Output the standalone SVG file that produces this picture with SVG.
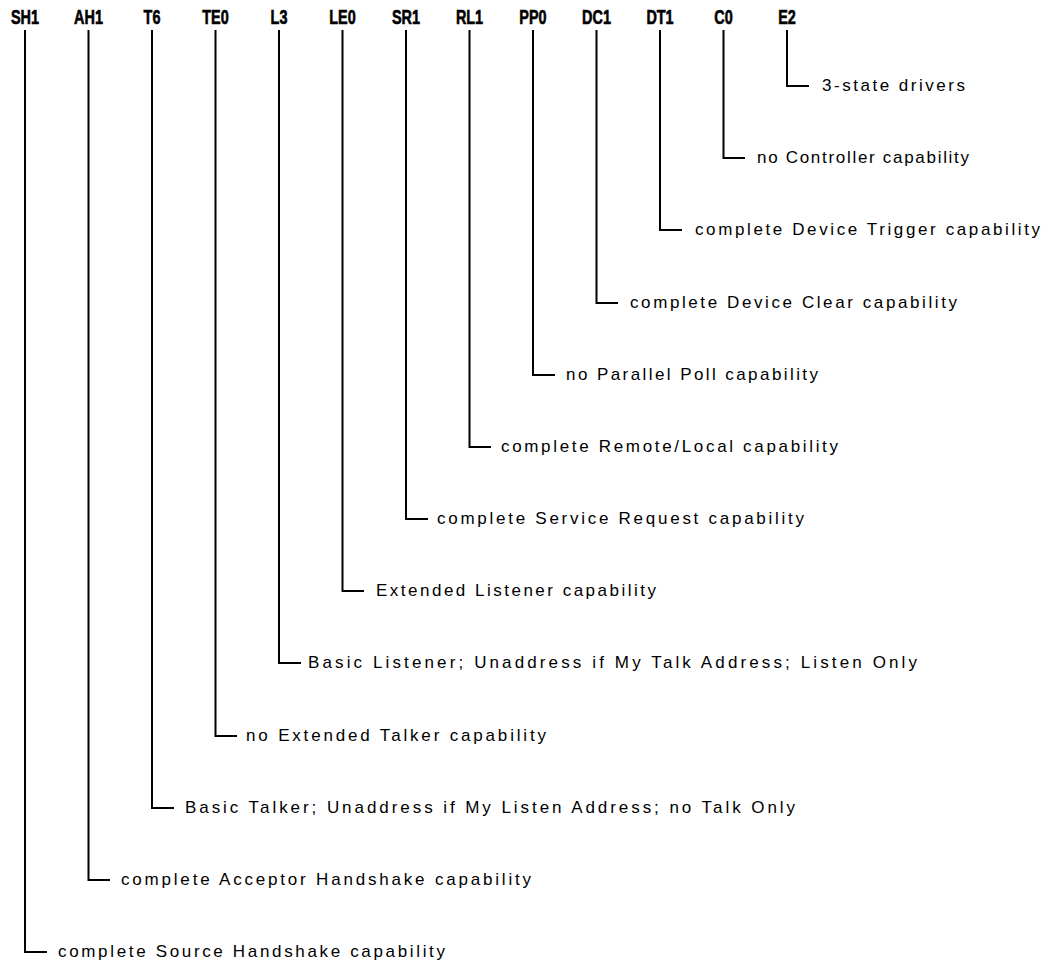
<svg xmlns="http://www.w3.org/2000/svg" width="1047" height="963" viewBox="0 0 1047 963">
<style>
.hd{font-family:"Liberation Sans",Arial,sans-serif;font-weight:bold;font-size:19.5px;fill:#000;stroke:#000;stroke-width:0.6;text-anchor:middle}
.lb{font-family:"Liberation Sans",Arial,sans-serif;font-size:17px;fill:#000}
.ln{fill:none;stroke:#000;stroke-width:2}
</style>
<rect width="1047" height="963" fill="#fff"/>
<g id="connectors">
<path class="ln" d="M25,30V952H47"/>
<path class="ln" d="M88.5,30V880H110"/>
<path class="ln" d="M152,30V808H174"/>
<path class="ln" d="M215.5,30V736H237"/>
<path class="ln" d="M279,30V663H301"/>
<path class="ln" d="M342.5,30V591H364"/>
<path class="ln" d="M406,30V519H428"/>
<path class="ln" d="M469.5,30V447H491"/>
<path class="ln" d="M533,30V375H555"/>
<path class="ln" d="M596.5,30V303H618"/>
<path class="ln" d="M660,30V230H682"/>
<path class="ln" d="M723.5,30V158H745"/>
<path class="ln" d="M787,30V86H809"/>
</g>
<g id="SH1"><text class="hd" transform="translate(25,24) scale(0.74,1)">SH1</text><text class="lb" x="58" y="957" textLength="387" lengthAdjust="spacing">complete Source Handshake capability</text></g>
<g id="AH1"><text class="hd" transform="translate(88.5,24) scale(0.74,1)">AH1</text><text class="lb" x="121" y="885" textLength="410" lengthAdjust="spacing">complete Acceptor Handshake capability</text></g>
<g id="T6"><text class="hd" transform="translate(152,24) scale(0.74,1)">T6</text><text class="lb" x="185" y="813" textLength="610" lengthAdjust="spacing">Basic Talker; Unaddress if My Listen Address; no Talk Only</text></g>
<g id="TE0"><text class="hd" transform="translate(215.5,24) scale(0.74,1)">TE0</text><text class="lb" x="246" y="741" textLength="300" lengthAdjust="spacing">no Extended Talker capability</text></g>
<g id="L3"><text class="hd" transform="translate(279,24) scale(0.74,1)">L3</text><text class="lb" x="308" y="668" textLength="609" lengthAdjust="spacing">Basic Listener; Unaddress if My Talk Address; Listen Only</text></g>
<g id="LE0"><text class="hd" transform="translate(342.5,24) scale(0.74,1)">LE0</text><text class="lb" x="376" y="596" textLength="280" lengthAdjust="spacing">Extended Listener capability</text></g>
<g id="SR1"><text class="hd" transform="translate(406,24) scale(0.74,1)">SR1</text><text class="lb" x="437" y="524" textLength="367" lengthAdjust="spacing">complete Service Request capability</text></g>
<g id="RL1"><text class="hd" transform="translate(469.5,24) scale(0.74,1)">RL1</text><text class="lb" x="501" y="452" textLength="337" lengthAdjust="spacing">complete Remote/Local capability</text></g>
<g id="PP0"><text class="hd" transform="translate(533,24) scale(0.74,1)">PP0</text><text class="lb" x="566" y="380" textLength="252" lengthAdjust="spacing">no Parallel Poll capability</text></g>
<g id="DC1"><text class="hd" transform="translate(596.5,24) scale(0.74,1)">DC1</text><text class="lb" x="630" y="308" textLength="327" lengthAdjust="spacing">complete Device Clear capability</text></g>
<g id="DT1"><text class="hd" transform="translate(660,24) scale(0.74,1)">DT1</text><text class="lb" x="695" y="235" textLength="345" lengthAdjust="spacing">complete Device Trigger capability</text></g>
<g id="C0"><text class="hd" transform="translate(723.5,24) scale(0.74,1)">C0</text><text class="lb" x="757" y="163" textLength="212" lengthAdjust="spacing">no Controller capability</text></g>
<g id="E2"><text class="hd" transform="translate(787,24) scale(0.74,1)">E2</text><text class="lb" x="822" y="91" textLength="143" lengthAdjust="spacing">3-state drivers</text></g>
</svg>
